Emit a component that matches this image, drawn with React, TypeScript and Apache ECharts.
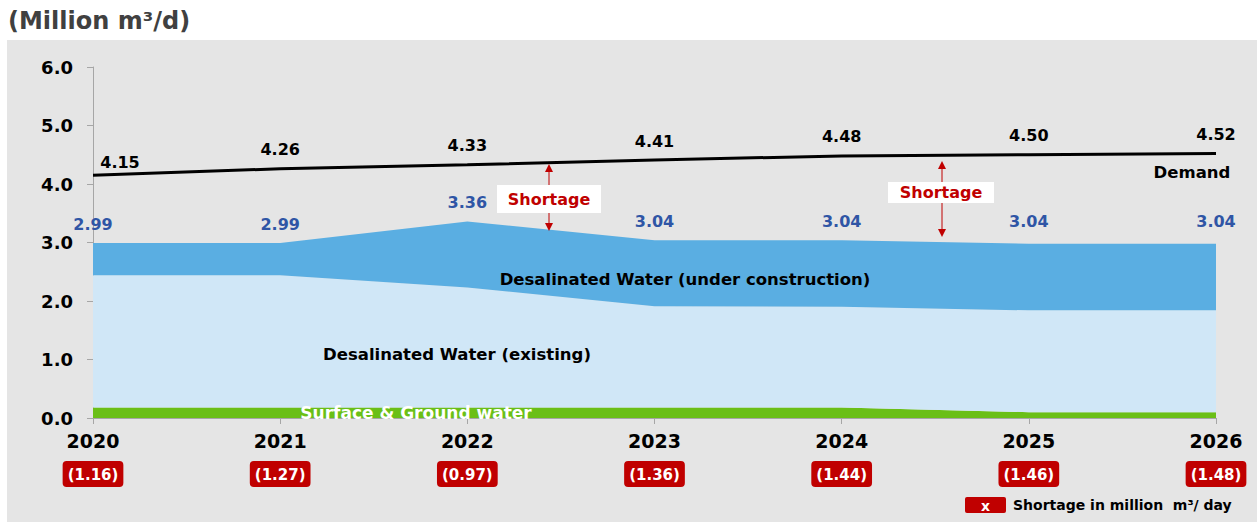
import React, { useEffect, useRef } from "react";
import * as echarts from "echarts";

const FONT = "'DejaVu Sans', Verdana, sans-serif";

const years = ["2020", "2021", "2022", "2023", "2024", "2025", "2026"];
const demand = [4.15, 4.26, 4.33, 4.41, 4.48, 4.5, 4.52];
const surfaceGround = [0.18, 0.18, 0.18, 0.18, 0.18, 0.1, 0.1];
const desalExisting = [2.26, 2.26, 2.05, 1.73, 1.72, 1.74, 1.74];
const desalUnderConstruction = [0.55, 0.55, 1.13, 1.13, 1.14, 1.14, 1.14];
const totalSupplyLabels = [2.99, 2.99, 3.36, 3.04, 3.04, 3.04, 3.04];
const shortages = ["1.16", "1.27", "0.97", "1.36", "1.44", "1.46", "1.48"];
const yTicks = [0, 1, 2, 3, 4, 5, 6];

const RED = "#c00000";

function arrow(x: number, top: number, bottom: number) {
  return [
    { type: "line", shape: { x1: x, y1: top + 6, x2: x, y2: bottom - 6 }, style: { stroke: RED, lineWidth: 1 }, z: 100 },
    { type: "polygon", shape: { points: [[x, top], [x - 4, top + 8], [x + 4, top + 8]] }, style: { fill: RED }, z: 100 },
    { type: "polygon", shape: { points: [[x, bottom], [x - 4, bottom - 8], [x + 4, bottom - 8]] }, style: { fill: RED }, z: 100 },
  ];
}

function shortageBox(x: number, y: number, w: number, h: number) {
  return [
    { type: "rect", shape: { x, y, width: w, height: h }, style: { fill: "#ffffff" }, z: 101 },
    {
      type: "text",
      x: x + w / 2,
      y: y + h / 2,
      style: { text: "Shortage", fill: RED, font: `bold 16px ${FONT}`, align: "center", verticalAlign: "middle" },
      z: 102,
    },
  ];
}

export default function App() {
  const ref = useRef<HTMLDivElement>(null);
  useEffect(() => {
    document.body.style.margin = "0";
    if (!ref.current) return;
    const chart = echarts.init(ref.current, null, { renderer: "svg" });
    const option: any = {
      animation: false,
      backgroundColor: "#ffffff",
      grid: { left: 93, right: 41, top: 67, bottom: 104 },
      xAxis: {
        type: "category",
        data: years,
        boundaryGap: false,
        axisLine: { lineStyle: { color: "#a6a6a6", width: 1 } },
        axisTick: { show: true, length: 6, lineStyle: { color: "#a6a6a6" } },
        axisLabel: {
          interval: 0,
          margin: 8,
          formatter: (v: string, i: number) => `{y|${v}}\n{s| }\n{b|(${shortages[i]})}`,
          rich: {
            y: { fontSize: 19, fontWeight: "bold", color: "#000", lineHeight: 30, fontFamily: FONT },
            s: { fontSize: 4, lineHeight: 10 },
            b: {
              fontSize: 15,
              fontWeight: "bold",
              color: "#fff",
              backgroundColor: RED,
              borderRadius: 4,
              padding: [6, 5, 5, 5],
              lineHeight: 16,
              fontFamily: FONT,
            },
          },
        },
        splitLine: { show: false },
      },
      yAxis: {
        type: "value",
        min: yTicks[0],
        max: yTicks[yTicks.length - 1],
        interval: 1,
        axisLine: { show: true, lineStyle: { color: "#a6a6a6", width: 1 } },
        axisTick: { show: true, length: 6, lineStyle: { color: "#a6a6a6" } },
        axisLabel: {
          margin: 20,
          fontSize: 18,
          fontWeight: "bold",
          color: "#000",
          fontFamily: FONT,
          formatter: (v: number) => v.toFixed(1),
        },
        splitLine: { show: false },
      },
      series: [
        {
          name: "Surface & Ground water",
          type: "line",
          stack: "supply",
          data: surfaceGround,
          symbol: "none",
          lineStyle: { width: 0 },
          areaStyle: { color: "#6abf17", opacity: 1 },
          z: 2,
        },
        {
          name: "Desalinated Water (existing)",
          type: "line",
          stack: "supply",
          data: desalExisting,
          symbol: "none",
          lineStyle: { width: 0 },
          areaStyle: { color: "#d0e7f7", opacity: 1 },
          z: 2,
        },
        {
          name: "Desalinated Water (under construction)",
          type: "line",
          stack: "supply",
          data: desalUnderConstruction,
          symbol: "none",
          lineStyle: { width: 0 },
          areaStyle: { color: "#5aaee2", opacity: 1 },
          z: 2,
        },
        {
          name: "Total supply",
          type: "line",
          data: totalSupplyLabels,
          symbol: "circle",
          symbolSize: 0,
          itemStyle: { color: "rgba(0,0,0,0)" },
          lineStyle: { width: 0, opacity: 0 },
          label: {
            show: true,
            position: "top",
            distance: 11,
            color: "#2f55a5",
            fontSize: 16,
            fontWeight: "bold",
            fontFamily: FONT,
            formatter: (p: any) => p.value.toFixed(2),
          },
          z: 5,
        },
        {
          name: "Demand",
          type: "line",
          data: demand.map((v, i) =>
            i === 0 ? { value: v, label: { offset: [27, 6] } } : v
          ),
          symbol: "circle",
          symbolSize: 0,
          itemStyle: { color: "#000" },
          lineStyle: { color: "#000", width: 3 },
          label: {
            show: true,
            position: "top",
            distance: 11,
            color: "#000",
            fontSize: 16,
            fontWeight: "bold",
            fontFamily: FONT,
            formatter: (p: any) => p.value.toFixed(2),
          },
          z: 6,
        },
      ],
      graphic: [
        { type: "rect", shape: { x: 7, y: 40, width: 1250, height: 482 }, style: { fill: "#e5e5e5" }, z: -100, silent: true },
        {
          type: "text",
          x: 8,
          y: 21,
          style: { text: "(Million m³/d)", fill: "#404040", font: `bold 24px ${FONT}`, verticalAlign: "middle" },
        },
        {
          type: "text",
          x: 685,
          y: 279,
          style: { text: "Desalinated Water (under construction)", fill: "#000", font: `bold 16.5px ${FONT}`, align: "center", verticalAlign: "middle" },
          z: 50,
        },
        {
          type: "text",
          x: 457,
          y: 354,
          style: { text: "Desalinated Water (existing)", fill: "#000", font: `bold 16.5px ${FONT}`, align: "center", verticalAlign: "middle" },
          z: 50,
        },
        {
          type: "text",
          x: 416,
          y: 413,
          style: { text: "Surface & Ground water", fill: "#fff", font: `bold 17px ${FONT}`, align: "center", verticalAlign: "middle" },
          z: 50,
        },
        {
          type: "text",
          x: 1192,
          y: 172,
          style: { text: "Demand", fill: "#000", font: `bold 16.5px ${FONT}`, align: "center", verticalAlign: "middle" },
          z: 50,
        },
        ...arrow(549, 164, 231),
        ...shortageBox(497, 185, 104, 28),
        ...arrow(942, 161, 237),
        ...shortageBox(888, 182, 106, 21),
        { type: "rect", shape: { x: 965, y: 497, width: 41, height: 16, r: 2 }, style: { fill: RED }, z: 50 },
        {
          type: "text",
          x: 985.5,
          y: 505.5,
          style: { text: "x", fill: "#fff", font: `bold 14px ${FONT}`, align: "center", verticalAlign: "middle" },
          z: 51,
        },
        {
          type: "text",
          x: 1013,
          y: 505,
          style: { text: "Shortage in million  m³/ day", fill: "#000", font: `bold 14px ${FONT}`, verticalAlign: "middle" },
          z: 51,
        },
      ],
    };
    chart.setOption(option);
    return () => chart.dispose();
  }, []);
  return <div ref={ref} style={{ width: 1257, height: 522 }} />;
}
